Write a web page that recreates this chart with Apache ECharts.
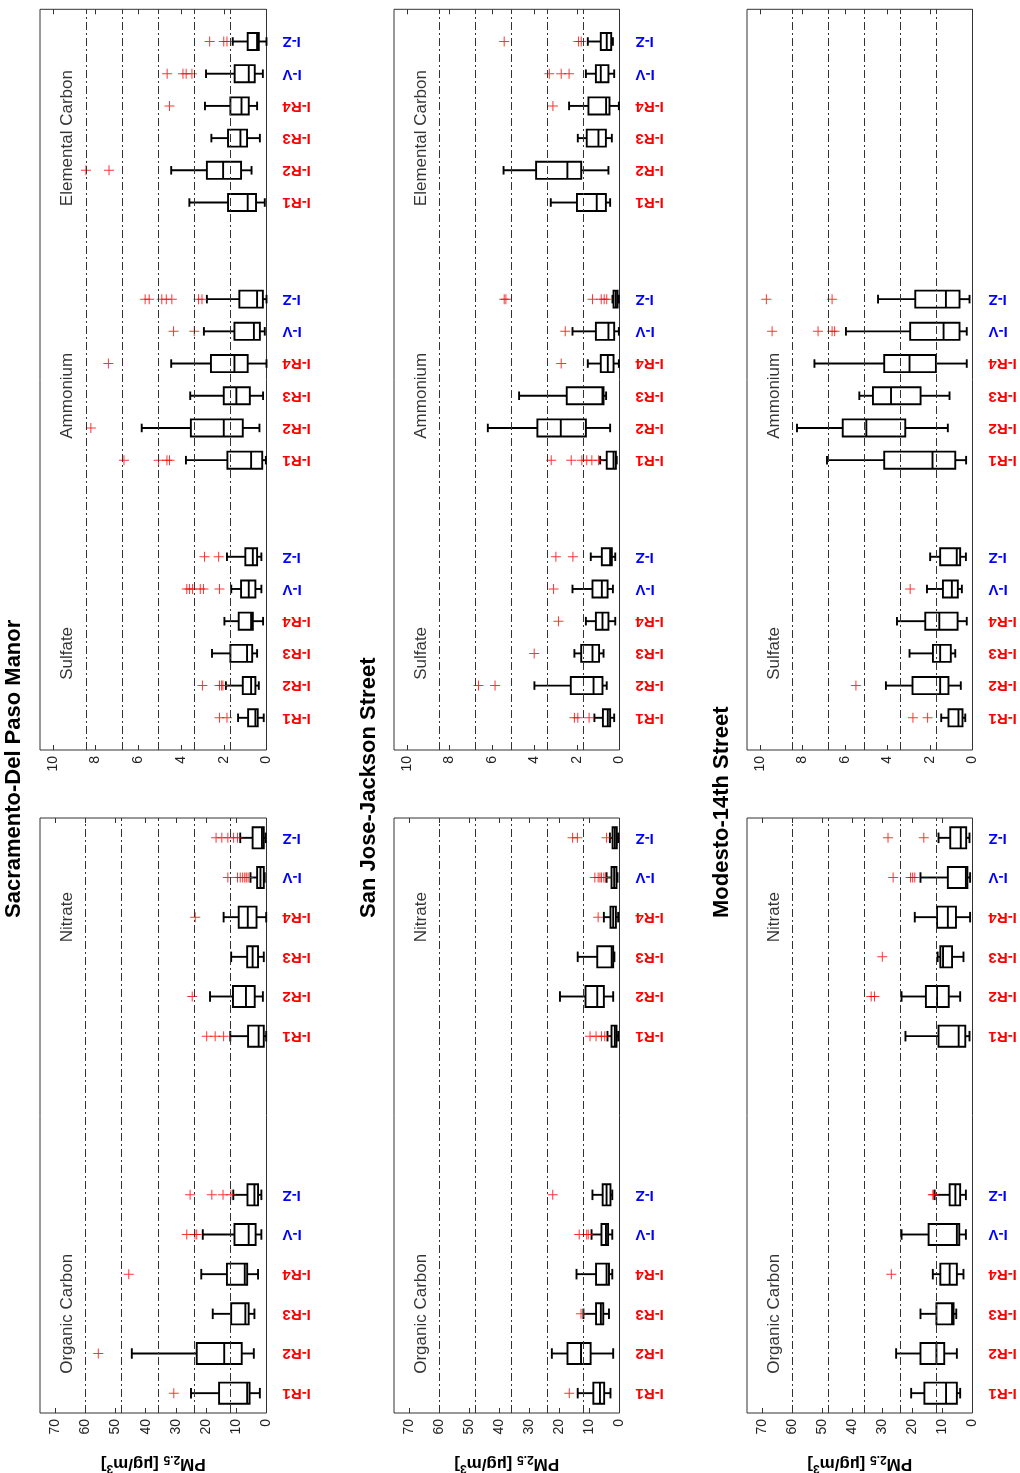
<!DOCTYPE html>
<html><head><meta charset="utf-8">
<script src="https://cdn.jsdelivr.net/npm/echarts@6/dist/echarts.min.js"></script>
<style>html,body{margin:0;padding:0;background:#fff}#c{width:1020px;height:1473px}</style>
</head><body><div id="c"></div><script>
// ---------- categories & ticks ----------
const six = ['I-R1','I-R2','I-R3','I-R4','I-V','I-Z'];
const blank6 = ['','','','','',''];
const leftCats = [...six, '', '', '', ...six];
const rightCats = ['', ...six, '', '', ...six, '', '', ...six, ''];
const rightCatsNoEC = ['', ...six, '', '', ...six, '', '', ...blank6, ''];
const leftTicks = [0,10,20,30,40,50,60,70];
const rightTicks = [0,2,4,6,8,10];
const leftGridVals = [12,24,36,48,60];
const rightGridVals = [1.69,3.38,5.07,6.76,8.45];
const stations = ['Sacramento-Del Paso Manor','San Jose-Jackson Street','Modesto-14th Street'];

// ---------- data: [whisker low, Q1, median, Q3, whisker high] per category ----------
// Sacramento
const sacOC = [[2.2,5.6,6.4,15.7,25],[4.2,8.2,14,23.1,44.6],[4,5.9,7,11.7,17.8],[2.8,6.4,7.2,13.1,21.6],[1.7,3.6,5.9,10.6,21.1],[1.7,2.8,4,6.3,11]];
const sacOCOut = [[30.7],[55.7],[],[45.6],[26.4,23.7,23.1],[25.3,18.1,14.4,11.8]];
const sacNO3 = [[0.1,0.9,2.6,6.1,12],[1.2,3.9,6.8,11.1,18.7],[0.9,2.8,4.6,6.4,11.7],[0.1,3.3,6.2,9.2,14.2],[0.6,0.9,2,3.1,5.3],[0.3,0.9,1.5,4.6,8.7]];
const sacNO3Out = [[19.8,17,14.2],[24.6],[],[23.6],[12.8,9.6,8.7,7.9,7.2,6.7,6.1],[16.7,14.8,12.8,10.9,9.6]];
const sacSO4 = [[0.13,0.41,0.52,0.86,1.33],[0.36,0.52,0.72,1.11,1.9],[0.44,0.67,0.91,1.69,2.55],[0.16,0.64,0.72,1.3,1.97],[0.24,0.52,0.83,1.19,1.65],[0.24,0.44,0.64,0.99,1.85]];
const sacSO4Out = [[2.2,1.85],[3.0,2.2,2.1,2.04],[],[],[3.73,3.6,3.46,3.1,2.95,2.2],[2.9,2.24]];
const sacNH4 = [[0.03,0.2,0.72,1.83,3.77],[0.33,1.11,2.0,3.54,5.84],[0.16,0.78,1.41,2.0,3.57],[0.0,0.88,1.5,2.6,4.46],[0.08,0.31,0.59,1.5,2.93],[0.0,0.17,0.44,1.27,2.79]];
const sacNH4Out = [[6.67,5.05,4.66,4.54],[8.22],[],[7.4],[4.35,3.38],[5.68,5.49,4.9,4.69,4.43,3.18,3.02]];
const sacEC = [[0.08,0.49,0.88,1.8,3.61],[0.7,1.19,2.03,2.79,4.46],[0.31,0.91,1.22,1.8,2.58],[0.44,0.83,1.17,1.69,2.88],[0.17,0.55,0.83,1.49,2.83],[0.0,0.36,0.44,0.88,1.58]];
const sacECOut = [[],[8.45,7.37],[],[4.54],[4.65,3.91,3.76,3.49],[2.66,2.0,1.85]];
// San Jose
const sjOC = [[3.0,5.1,6.5,8.7,13.9],[2.1,9.6,12.8,17.3,22.5],[3.5,5.4,6.2,7.8,12.0],[2.4,3.5,4.3,7.8,14.3],[2.4,3.8,4.5,6.0,9.3],[2.4,3.0,4.3,5.6,9.0]];
const sjOCOut = [[16.7],[],[12.8],[],[13.4,10.9,10.4],[22.2]];
const sjNO3 = [[0.44,1.0,1.55,2.65,4.0],[2.1,5.2,7.4,11.3,19.8],[1.7,2.1,2.6,7.4,13.9],[0.44,1.2,2.1,3.0,5.2],[0.66,1.0,1.77,2.65,4.3],[0.44,0.9,1.55,2.3,3.2]];
const sjNO3Out = [[9.8,7.8,6.0,4.9],[],[],[7.1],[8.2,7.1,6.5,6.0,5.2,4.6],[15.6,14,4.3]];
const sjSO4 = [[0.25,0.44,0.55,0.78,1.18],[0.6,0.8,1.22,2.29,4.0],[0.75,0.96,1.27,1.8,2.12],[0.2,0.52,0.8,1.11,1.58],[0.31,0.56,0.83,1.27,2.21],[0.2,0.36,0.44,0.83,1.35]];
const sjSO4Out = [[2.12,1.96,1.43],[6.63,5.85],[4.01],[2.87],[3.1],[2.99,2.19]];
const sjNH4 = [[0.13,0.17,0.28,0.6,0.91],[0.44,1.58,2.76,3.86,6.19],[0.63,0.75,0.8,2.48,4.72],[0.03,0.28,0.55,0.88,1.49],[0.03,0.25,0.52,1.11,2.21],[0.03,0.09,0.17,0.28,0.33]];
const sjNH4Out = [[3.21,2.27,1.77,1.54,1.3,0.99],[],[],[2.74],[2.55],[5.42,5.34,1.27,0.86,0.72,0.6]];
const sjEC = [[0.44,0.64,1.07,2.0,3.23],[0.52,1.8,2.45,3.92,5.45],[0.36,0.64,0.99,1.54,1.96],[0.03,0.47,0.63,1.46,2.37],[0.25,0.52,0.88,1.11,1.58],[0.31,0.39,0.6,0.88,1.49]];
const sjECOut = [[],[],[],[3.13],[3.3,2.74,2.37],[5.42,1.93,1.8]];
// Modesto
const modOC = [[4.1,5.2,8.8,16.0,20.4],[5.2,9.4,12.0,17.3,25.4],[5.4,6.3,6.8,12.0,17.3],[3.0,5.2,7.6,10.7,13.2],[2.2,4.4,5.2,14.6,23.6],[2.2,4.1,5.7,7.6,12.6]];
const modOCOut = [[],[],[],[27.0],[],[13.2,12.9]];
const modNO3 = [[1.0,2.4,4.6,11.3,22.3],[4.1,7.9,11.8,15.5,23.6],[3.0,6.8,9.8,10.7,11.6],[0.8,5.5,8.2,11.8,19.2],[0.8,1.7,2.2,8.2,17.3],[1.0,2.1,3.9,7.4,11.3]];
const modNO3Out = [[],[33.7,32.6],[30],[],[26.4,20.6,19.9,19.2],[28.1,16.2]];
const modSO4 = [[0.34,0.47,0.66,1.13,1.47],[0.55,1.13,1.52,2.82,4.07],[0.81,1.02,1.52,1.86,2.96],[0.27,0.7,1.56,2.22,3.55],[0.5,0.69,0.97,1.39,2.14],[0.31,0.58,0.74,1.52,1.99]];
const modSO4Out = [[2.8,2.11],[5.48],[],[],[2.93],[]];
const modNH4 = [[0.3,0.81,1.88,4.15,6.84],[1.16,3.16,4.99,6.1,8.25],[1.08,2.44,3.83,4.68,5.32],[0.27,1.72,2.96,4.15,7.43],[0.27,0.61,1.36,2.93,5.95],[0.14,0.61,1.25,2.69,4.44]];
const modNH4Out = [[],[],[],[],[9.42,7.26,6.6,6.48],[9.69,6.6]];

// ---------- panel structure ----------
const panels = [
  {row:0, side:'L', cats:leftCats, groups:[{name:'Organic Carbon',start:0,lab:2,box:sacOC,out:sacOCOut},{name:'Nitrate',start:9,lab:12,box:sacNO3,out:sacNO3Out}]},
  {row:0, side:'R', cats:rightCats, groups:[{name:'Sulfate',start:1,lab:3,box:sacSO4,out:sacSO4Out},{name:'Ammonium',start:9,lab:11,box:sacNH4,out:sacNH4Out},{name:'Elemental Carbon',start:17,lab:19,box:sacEC,out:sacECOut}]},
  {row:1, side:'L', cats:leftCats, groups:[{name:'Organic Carbon',start:0,lab:2,box:sjOC,out:sjOCOut},{name:'Nitrate',start:9,lab:12,box:sjNO3,out:sjNO3Out}]},
  {row:1, side:'R', cats:rightCats, groups:[{name:'Sulfate',start:1,lab:3,box:sjSO4,out:sjSO4Out},{name:'Ammonium',start:9,lab:11,box:sjNH4,out:sjNH4Out},{name:'Elemental Carbon',start:17,lab:19,box:sjEC,out:sjECOut}]},
  {row:2, side:'L', cats:leftCats, groups:[{name:'Organic Carbon',start:0,lab:2,box:modOC,out:modOCOut},{name:'Nitrate',start:9,lab:12,box:modNO3,out:modNO3Out}]},
  {row:2, side:'R', cats:rightCatsNoEC, groups:[{name:'Sulfate',start:1,lab:3,box:modSO4,out:modSO4Out},{name:'Ammonium',start:9,lab:11,box:modNH4,out:modNH4Out}]}
];

// ---------- layout ----------
const rowLeft = [40, 394, 747];
const rowWidth = [226.5, 225.5, 225.5];
const titleBase = [25, 380, 733];
const FONT = 'Arial, "Liberation Sans", Helvetica, sans-serif';
const plusPath = 'path://M4.5,0H5.5V4.5H10V5.5H5.5V10H4.5V5.5H0V4.5H4.5Z';

function renderBox(params, api) {
  const c = api.value(0);
  const pLo = api.coord([api.value(1), c]);
  const pQ1 = api.coord([api.value(2), c]);
  const pMd = api.coord([api.value(3), c]);
  const pQ3 = api.coord([api.value(4), c]);
  const pHi = api.coord([api.value(5), c]);
  const bw = api.size([0, 1])[1] * 0.53;
  const h = bw / 2, cap = bw / 4, y = pMd[1];
  const st = {stroke:'#000', lineWidth:1.9, fill:'none'};
  return {type:'group', children:[
    {type:'line', shape:{x1:pLo[0],y1:y,x2:pQ1[0],y2:y}, style:st},
    {type:'line', shape:{x1:pQ3[0],y1:y,x2:pHi[0],y2:y}, style:st},
    {type:'line', shape:{x1:pLo[0],y1:y-cap,x2:pLo[0],y2:y+cap}, style:st},
    {type:'line', shape:{x1:pHi[0],y1:y-cap,x2:pHi[0],y2:y+cap}, style:st},
    {type:'rect', shape:{x:Math.min(pQ1[0],pQ3[0]), y:y-h, width:Math.abs(pQ1[0]-pQ3[0]), height:bw}, style:st},
    {type:'line', shape:{x1:pMd[0],y1:y-h,x2:pMd[0],y2:y+h}, style:st}
  ]};
}

const grid = [], xAxis = [], yAxis = [], series = [];
panels.forEach((p, i) => {
  const L = p.side === 'L';
  grid.push({
    left: rowLeft[p.row], width: rowWidth[p.row],
    top: L ? 818 : 9.3, height: L ? 595 : 740.7,
    show: true, borderColor: '#333', borderWidth: 1, backgroundColor: 'transparent',
    containLabel: false, outerBoundsMode: 'none'
  });
  const ticks = L ? leftTicks : rightTicks;
  const maxV = L ? 75 : 10.6;
  const base = {
    type: 'value', gridIndex: i, min: 0, max: maxV, inverse: true,
    axisLine: {show: false}, splitLine: {show: false},
    axisTick: {show: true, inside: true, length: 5, customValues: ticks, lineStyle: {color: '#333', width: 1}}
  };
  xAxis.push(Object.assign({}, base, {
    position: 'bottom',
    axisLabel: {show: true, customValues: ticks, rotate: 90, margin: 6, fontSize: 14, color: '#222', fontFamily: FONT},
    name: L ? 'PM{s|2.5} [µg/m{p|3}]' : '',
    nameLocation: 'middle', nameGap: 40, nameRotate: 180,
    nameTextStyle: {fontSize: 17, fontWeight: 'bold', color: '#000', fontFamily: FONT,
      rich: {s: {fontSize: 12, fontWeight: 'bold', fontFamily: FONT, padding: [10,0,0,0]},
             p: {fontSize: 12, fontWeight: 'bold', fontFamily: FONT, padding: [0,0,8,0]}}}
  }));
  xAxis.push(Object.assign({}, base, {position: 'top', axisLabel: {show: false}}));
  yAxis.push({
    type: 'category', gridIndex: i, position: 'right',
    data: p.cats, boundaryGap: L,
    axisLine: {show: false}, axisTick: {show: false}, splitLine: {show: false},
    axisLabel: {show: true, interval: 0, rotate: 180, margin: 16,
      formatter: v => v === '' ? '' : (v.indexOf('R') >= 0 ? '{r|' + v + '}' : '{b|' + v + '}'),
      rich: {r: {color: '#ff0000', fontWeight: 'bold', fontSize: 15, fontFamily: FONT},
             b: {color: '#0000ff', fontWeight: 'bold', fontSize: 15, fontFamily: FONT}}}
  });
  const boxData = [], outData = [], labData = [];
  p.groups.forEach(g => {
    g.box.forEach((s, k) => boxData.push([g.start + k, s[0], s[1], s[2], s[3], s[4]]));
    g.out.forEach((arr, k) => arr.forEach(v => outData.push([v, g.start + k])));
    labData.push({value: [L ? 66 : 9.3, g.lab], name: g.name});
  });
  const xi = i * 2;
  series.push({
    type: 'custom', xAxisIndex: xi, yAxisIndex: i, renderItem: renderBox,
    data: boxData, encode: {x: [1,2,3,4,5], y: 0}, animation: false, silent: true
  });
  series.push({
    type: 'scatter', xAxisIndex: xi, yAxisIndex: i, data: outData,
    symbol: plusPath, symbolSize: 10, itemStyle: {color: '#ff0000'}, animation: false, silent: true,
    markLine: {silent: true, symbol: ['none','none'], animation: false, label: {show: false},
      lineStyle: {type: [8,3,2,3], color: '#333', width: 1},
      data: (L ? leftGridVals : rightGridVals).map(v => ({xAxis: v}))}
  });
  series.push({
    type: 'scatter', xAxisIndex: xi, yAxisIndex: i, data: labData, symbolSize: 0,
    animation: false, silent: true,
    label: {show: true, position: 'inside', formatter: '{b}', rotate: 90, fontSize: 17, color: '#000', fontFamily: FONT}
  });
});

const graphic = stations.map((s, r) => ({
  type: 'text', x: titleBase[r], y: 918, rotation: Math.PI / 2,
  style: {text: s, font: 'bold 22px ' + FONT, fill: '#000', textAlign: 'left', textVerticalAlign: 'bottom'}
}));

const chart = echarts.init(document.getElementById('c'), null, {renderer: 'canvas'});
chart.setOption({backgroundColor: '#fff', animation: false, grid, xAxis, yAxis, series, graphic});
</script></body></html>
